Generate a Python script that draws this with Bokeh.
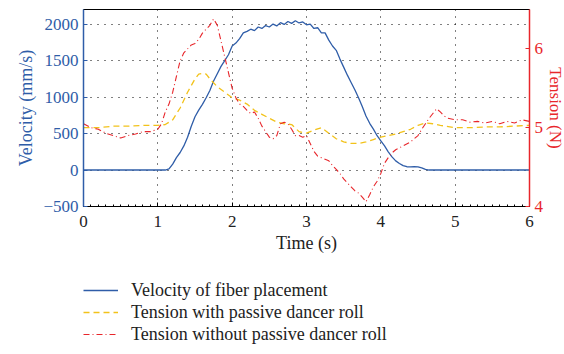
from bokeh.plotting import figure
from bokeh.layouts import column
from bokeh.models import Range1d, LinearAxis, Legend, LegendItem, FixedTicker, SingleIntervalTicker
from bokeh.embed import file_html
from bokeh.resources import INLINE

# Velocity of fiber placement (mm/s)
vel_t = [0, 1.1, 1.15, 1.2, 1.25, 1.3, 1.35, 1.4, 1.45, 1.5, 1.55, 1.6, 1.65, 1.7, 1.75, 1.8,
         1.85, 1.9, 1.95, 2.0, 2.05, 2.1, 2.15, 2.2, 2.25, 2.3, 2.35, 2.4, 2.45, 2.5, 2.55, 2.6,
         2.65, 2.7, 2.75, 2.8, 2.85, 2.9, 2.95, 3.0, 3.05, 3.1, 3.15, 3.2, 3.25, 3.3, 3.35, 3.4,
         3.45, 3.5, 3.55, 3.6, 3.65, 3.7, 3.75, 3.8, 3.85, 3.9, 3.95, 4.0, 4.05, 4.1, 4.15, 4.2,
         4.25, 4.3, 4.35, 4.4, 4.45, 4.5, 4.55, 4.6, 4.65, 6.0]
vel_v = [0, 0, 15, 80, 170, 240, 330, 450, 600, 730, 820, 900, 990, 1090, 1220, 1320,
         1420, 1500, 1580, 1700, 1740, 1800, 1880, 1900, 1930, 1910, 1960, 1940, 1980, 1960, 2000, 1975,
         2020, 1995, 2035, 2010, 2045, 2015, 2030, 1990, 2000, 1940, 1950, 1880, 1880, 1780, 1700, 1640,
         1520, 1410, 1300, 1200, 1100, 990, 870, 740, 640, 560, 470, 400, 330, 250, 180, 125,
         90, 60, 45, 42, 45, 42, 30, 10, 0, 0]

# Tension with passive dancer roll (N)
yel_t = [0, 0.2, 0.4, 0.6, 0.8, 1.0, 1.1, 1.2, 1.3, 1.4, 1.5, 1.55, 1.6, 1.65, 1.7, 1.8, 1.9,
         2.0, 2.1, 2.2, 2.3, 2.4, 2.5, 2.6, 2.7, 2.8, 2.9, 3.0, 3.1, 3.2, 3.3, 3.4, 3.5, 3.6,
         3.7, 3.8, 3.9, 4.0, 4.1, 4.2, 4.3, 4.4, 4.5, 4.6, 4.7, 4.8, 5.0, 5.2, 5.4, 5.6, 5.8, 6.0]
yel_v = [5.0, 5.0, 5.02, 5.02, 5.03, 5.03, 5.04, 5.1, 5.25, 5.45, 5.62, 5.68, 5.69, 5.68, 5.62, 5.52, 5.45,
         5.38, 5.35, 5.3, 5.22, 5.17, 5.12, 5.07, 5.05, 5.04, 4.95, 4.93, 4.97, 5.0, 4.93, 4.86, 4.82, 4.8,
         4.8, 4.82, 4.85, 4.88, 4.9, 4.92, 4.95, 4.98, 5.03, 5.06, 5.05, 5.03, 5.0, 5.0, 5.01, 5.01, 5.02, 5.03]

# Tension without passive dancer roll (N)
red_t = [0, 0.1, 0.2, 0.3, 0.4, 0.5, 0.6, 0.7, 0.8, 0.9, 1.0, 1.05, 1.1, 1.15, 1.2, 1.25, 1.3,
         1.35, 1.4, 1.45, 1.5, 1.55, 1.6, 1.65, 1.7, 1.75, 1.8, 1.85, 1.9, 1.95, 2.0, 2.05, 2.1,
         2.15, 2.2, 2.25, 2.3, 2.35, 2.4, 2.45, 2.5, 2.55, 2.6, 2.65, 2.7, 2.75, 2.8, 2.85, 2.9,
         2.95, 3.0, 3.05, 3.1, 3.15, 3.2, 3.25, 3.3, 3.35, 3.4, 3.45, 3.5, 3.55, 3.6, 3.65, 3.7,
         3.75, 3.8, 3.85, 3.9, 3.95, 4.0, 4.05, 4.1, 4.15, 4.2, 4.3, 4.4, 4.5, 4.55, 4.6, 4.65,
         4.7, 4.75, 4.8, 4.85, 4.9, 5.0, 5.1, 5.2, 5.3, 5.4, 5.5, 5.6, 5.7, 5.8, 5.9, 6.0]
red_v = [5.05, 5.0, 4.98, 4.93, 4.9, 4.87, 4.9, 4.92, 4.95, 4.95, 4.98, 5.05, 5.2, 5.3, 5.45, 5.65, 5.85,
         5.95, 6.0, 6.05, 6.07, 6.12, 6.2, 6.25, 6.3, 6.38, 6.3, 6.1, 5.9, 5.7, 5.5, 5.38, 5.3,
         5.27, 5.22, 5.18, 5.2, 5.12, 5.02, 4.95, 4.88, 4.86, 4.9, 5.05, 5.07, 5.05, 4.98, 4.9, 4.9,
         4.88, 4.9, 4.8, 4.7, 4.64, 4.62, 4.6, 4.58, 4.52, 4.47, 4.42, 4.35, 4.3, 4.25, 4.2, 4.17,
         4.12, 4.06, 4.15, 4.25, 4.32, 4.42, 4.55, 4.62, 4.68, 4.72, 4.77, 4.82, 4.9, 4.98, 5.05, 5.12,
         5.18, 5.24, 5.2, 5.15, 5.12, 5.1, 5.1, 5.07, 5.08, 5.06, 5.08, 5.05, 5.08, 5.06, 5.1, 5.08]

labels = ["Velocity of fiber placement", "Tension with passive dancer roll",
          "Tension without passive dancer roll"]

BLUE = "#2f5da8"
YELLOW = "#f2c21a"
RED = "#e8262b"
FONT = "Liberation Serif"

p = figure(frame_width=446, frame_height=197, output_backend="svg", toolbar_location=None,
           x_range=Range1d(0, 6), y_range=Range1d(-500, 2200),
           min_border_left=83, min_border_right=35, min_border_top=9, min_border_bottom=60)
p.extra_y_ranges = {"tension": Range1d(4, 6.5)}

# grid
for g in (p.xgrid, p.ygrid):
    g.grid_line_color = "black"
    g.grid_line_dash = "1 6"
    g.grid_line_width = 1
p.xgrid.ticker = FixedTicker(ticks=[1, 2, 3, 4, 5])
p.ygrid.ticker = FixedTicker(ticks=[0, 500, 1000, 1500, 2000])
p.outline_line_color = "black"
p.background_fill_color = "white"

# bottom axis
xa = p.xaxis[0]
xa.ticker = SingleIntervalTicker(interval=1, num_minor_ticks=10)
xa.axis_label = "Time (s)"
xa.axis_line_color = "black"
xa.major_tick_in = 4
xa.major_tick_out = 0
xa.minor_tick_in = 2
xa.minor_tick_out = 0
xa.major_label_text_font = FONT
xa.major_label_text_font_size = "17px"
xa.major_label_text_color = "#222222"
xa.axis_label_text_font = FONT
xa.axis_label_text_font_size = "18px"
xa.axis_label_text_font_style = "normal"
xa.axis_label_text_color = "#222222"
xa.axis_label_standoff = 3
xa.major_label_standoff = 9

# left axis
ya = p.yaxis[0]
ya.ticker = FixedTicker(ticks=[-500, 0, 500, 1000, 1500, 2000])
ya.axis_label = "Velocity (mm/s)"
ya.axis_line_color = BLUE
ya.axis_line_width = 1.5
ya.major_tick_line_color = BLUE
ya.major_tick_in = 4
ya.major_tick_out = 0
ya.minor_tick_line_color = None
ya.major_label_text_color = BLUE
ya.major_label_text_font = FONT
ya.major_label_text_font_size = "17px"
ya.axis_label_text_color = BLUE
ya.axis_label_text_font = FONT
ya.axis_label_text_font_size = "18px"
ya.axis_label_text_font_style = "normal"
ya.axis_label_standoff = 4
ya.major_label_standoff = 5

# right axis
ra = LinearAxis(y_range_name="tension", ticker=FixedTicker(ticks=[4, 5, 6]),
                axis_label="Tension (N)")
ra.axis_line_color = RED
ra.axis_line_width = 1.5
ra.major_tick_line_color = RED
ra.major_tick_in = 4
ra.major_tick_out = 0
ra.minor_tick_line_color = None
ra.major_label_text_color = RED
ra.major_label_text_font = FONT
ra.major_label_text_font_size = "17px"
ra.axis_label_text_color = RED
ra.axis_label_text_font = FONT
ra.axis_label_text_font_size = "17px"
ra.axis_label_text_font_style = "normal"
ra.axis_label_standoff = 0
ra.major_label_standoff = 5
p.add_layout(ra, "right")

line_styles = [dict(line_color=BLUE, line_width=1.3),
               dict(line_color=YELLOW, line_width=1.3, line_dash="6 4"),
               dict(line_color=RED, line_width=1.1, line_dash="6 3 1 3")]

p.line(vel_t, vel_v, **line_styles[0])
p.line(yel_t, yel_v, y_range_name="tension", **line_styles[1])
p.line(red_t, red_v, y_range_name="tension", **line_styles[2])

# legend panel below the chart (its renderers lie outside its visible range)
q = figure(width=564, height=88, output_backend="svg", toolbar_location=None,
           x_range=Range1d(100, 101), y_range=Range1d(100, 101),
           min_border=0, x_axis_location=None, y_axis_location=None)
q.outline_line_color = None
q.xgrid.visible = False
q.ygrid.visible = False
q1 = q.line(vel_t, vel_v, **line_styles[0])
q2 = q.line(yel_t, yel_v, **line_styles[1])
q3 = q.line(red_t, red_v, **line_styles[2])

legend = Legend(items=[LegendItem(label=labels[0], renderers=[q1]),
                       LegendItem(label=labels[1], renderers=[q2]),
                       LegendItem(label=labels[2], renderers=[q3])],
                location=(0, 9), orientation="vertical",
                border_line_color=None, background_fill_alpha=0,
                label_text_font=FONT, label_text_font_size="18px",
                label_text_color="#222222", glyph_width=35, label_standoff=13,
                spacing=0, padding=0, margin=0, label_height=22, glyph_height=22)
q.add_layout(legend, "center")

layout = column(p, q, spacing=0)
open("out.html", "w").write(file_html(layout, INLINE))
